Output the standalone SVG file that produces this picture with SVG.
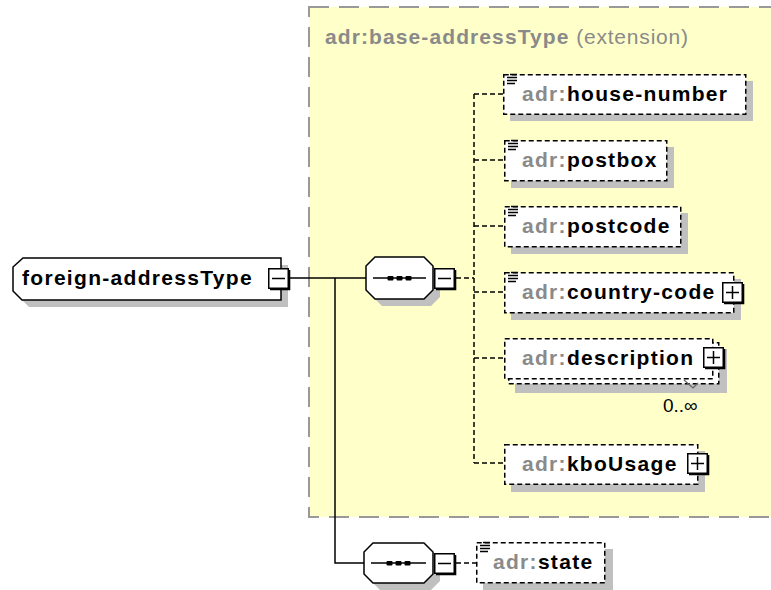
<svg xmlns="http://www.w3.org/2000/svg" xmlns:xlink="http://www.w3.org/1999/xlink" width="771" height="590" viewBox="0 0 771 590">
<style>
.sh{fill:#c0c0c0}
.el{fill:#fff;stroke:#000;stroke-width:1.5;stroke-dasharray:5,3}
.solid{fill:#fff;stroke:#000;stroke-width:1.5}
.conn{fill:none;stroke:#000;stroke-width:1.5}
.dconn{fill:none;stroke:#000;stroke-width:1.5;stroke-dasharray:5,3}
.t{font-family:"Liberation Sans",Arial,sans-serif;font-size:21px;font-weight:bold;letter-spacing:1.3px;fill:#000}
.p{fill:#8a8a8a}
.title{font-family:"Liberation Sans",Arial,sans-serif;font-size:21px;fill:#8a8a8a}
.occ{font-family:"Liberation Sans",Arial,sans-serif;font-size:19px;fill:#000}
</style>
<defs>
<g id="bm"><rect x="0.75" y="0.75" width="19.5" height="19.5" fill="#fff" stroke="#000" stroke-width="1.5"/><path d="M2,21.2 H21.2 V2" fill="none" stroke="#000" stroke-width="2.2"/><path d="M4,10.5 H17" stroke="#000" stroke-width="1.5"/></g>
<g id="bp"><use xlink:href="#bm"/><path d="M10.5,4 V17" stroke="#000" stroke-width="1.5"/></g>
<g id="doc" stroke="#000" stroke-width="1.3"><path d="M4,1.5 H11 M1,4.5 H11 M1,7.5 H11 M1,10.5 H9"/></g>
</defs>

<rect x="309" y="7" width="470" height="510" fill="#FFFFC9" stroke="#999" stroke-width="2" stroke-dasharray="20,10"/>
<text x="325" y="44" class="title"><tspan font-weight="bold" letter-spacing="1.1">adr:base-addressType</tspan><tspan letter-spacing="0.8"> (extension)</tspan></text>

<g id="connectors">
<path class="conn" d="M290,278 H366 M335,278 V563 H364"/>
<path class="dconn" d="M456,278 H474 M474,94 V463 M474,94 H503 M474,160 H504 M474,226 H504 M474,292 H504 M474,358 H504 M474,463 H504 M456,563 H476"/>
</g>

<g id="foreign-addressType">
<path class="sh" d="M30,265 H288 V307 H29 L20,298 V274 Z"/>
<path class="solid" d="M23,258 H281 V300 H22 L13,291 V267 Z"/>
<text x="22" y="285" class="t">foreign-addressType</text>
<use xlink:href="#bm" x="268" y="268"/>
</g>

<g id="sequence1">
<path class="sh" d="M382,264 H431 L440,273 V297 L431,306 H382 L373,297 V273 Z"/>
<path class="solid" d="M375,257 H424 L433,266 V290 L424,299 H375 L366,290 V266 Z"/>
<path d="M373,278 H426" stroke="#000" stroke-width="1.5"/>
<rect x="387.5" y="276" width="6" height="4.5" rx="1"/><rect x="396.5" y="276" width="6" height="4.5" rx="1"/><rect x="405.5" y="276" width="6" height="4.5" rx="1"/>
<use xlink:href="#bm" x="434" y="268"/>
</g>

<g id="sequence2">
<path class="sh" d="M380,550 H431 L440,559 V581 L431,590 H380 L371,581 V559 Z"/>
<path class="solid" d="M373,543 H424 L433,552 V574 L424,583 H373 L364,574 V552 Z"/>
<path d="M371,563 H426" stroke="#000" stroke-width="1.5"/>
<rect x="386.5" y="561" width="6" height="4.5" rx="1"/><rect x="395.5" y="561" width="6" height="4.5" rx="1"/><rect x="404.5" y="561" width="6" height="4.5" rx="1"/>
<use xlink:href="#bm" x="434" y="553"/>
</g>

<g id="house-number">
<rect class="sh" x="510" y="81" width="243" height="40"/>
<rect class="el" x="503.75" y="74.75" width="242" height="39.5"/>
<use xlink:href="#doc" x="506" y="73"/>
<text x="522" y="101" class="t"><tspan class="p">adr:</tspan>house-number</text>
</g>

<g id="postbox">
<rect class="sh" x="511" y="147" width="163" height="41"/>
<rect class="el" x="504.75" y="140.75" width="162" height="40"/>
<use xlink:href="#doc" x="507" y="139"/>
<text x="522" y="167" class="t"><tspan class="p">adr:</tspan>postbox</text>
</g>

<g id="postcode">
<rect class="sh" x="511" y="213" width="177" height="41"/>
<rect class="el" x="504.75" y="206.75" width="176" height="40"/>
<use xlink:href="#doc" x="507" y="205"/>
<text x="522" y="233" class="t"><tspan class="p">adr:</tspan>postcode</text>
</g>

<g id="country-code">
<rect class="sh" x="511" y="279" width="230" height="41"/>
<rect class="el" x="504.75" y="272.75" width="229" height="40"/>
<use xlink:href="#doc" x="507" y="271"/>
<text x="522" y="299" class="t"><tspan class="p">adr:</tspan>country-code</text>
<use xlink:href="#bp" x="722" y="282"/>
</g>

<g id="description">
<rect class="sh" x="515" y="349" width="212" height="44"/>
<rect class="el" x="508.75" y="342.75" width="210" height="41"/>
<rect class="el" x="504.75" y="338.75" width="208" height="40"/>
<text x="522" y="365" class="t"><tspan class="p">adr:</tspan>description</text>
<use xlink:href="#bp" x="703" y="347"/>
<path d="M684,380 L693,388 L698,383" fill="none" stroke="#666" stroke-width="1.2"/>
<text x="663" y="412" class="occ">0..∞</text>
</g>

<g id="kboUsage">
<rect class="sh" x="511" y="451" width="194" height="41"/>
<rect class="el" x="504.75" y="444.75" width="193" height="39.5"/>
<text x="522" y="471" class="t"><tspan class="p">adr:</tspan>kboUsage</text>
<use xlink:href="#bp" x="687" y="453"/>
</g>

<g id="state">
<rect class="sh" x="483" y="549" width="130" height="41"/>
<rect class="el" x="476.75" y="542.75" width="128" height="40"/>
<use xlink:href="#doc" x="479" y="541"/>
<text x="493" y="569" class="t"><tspan class="p">adr:</tspan>state</text>
</g>
</svg>
